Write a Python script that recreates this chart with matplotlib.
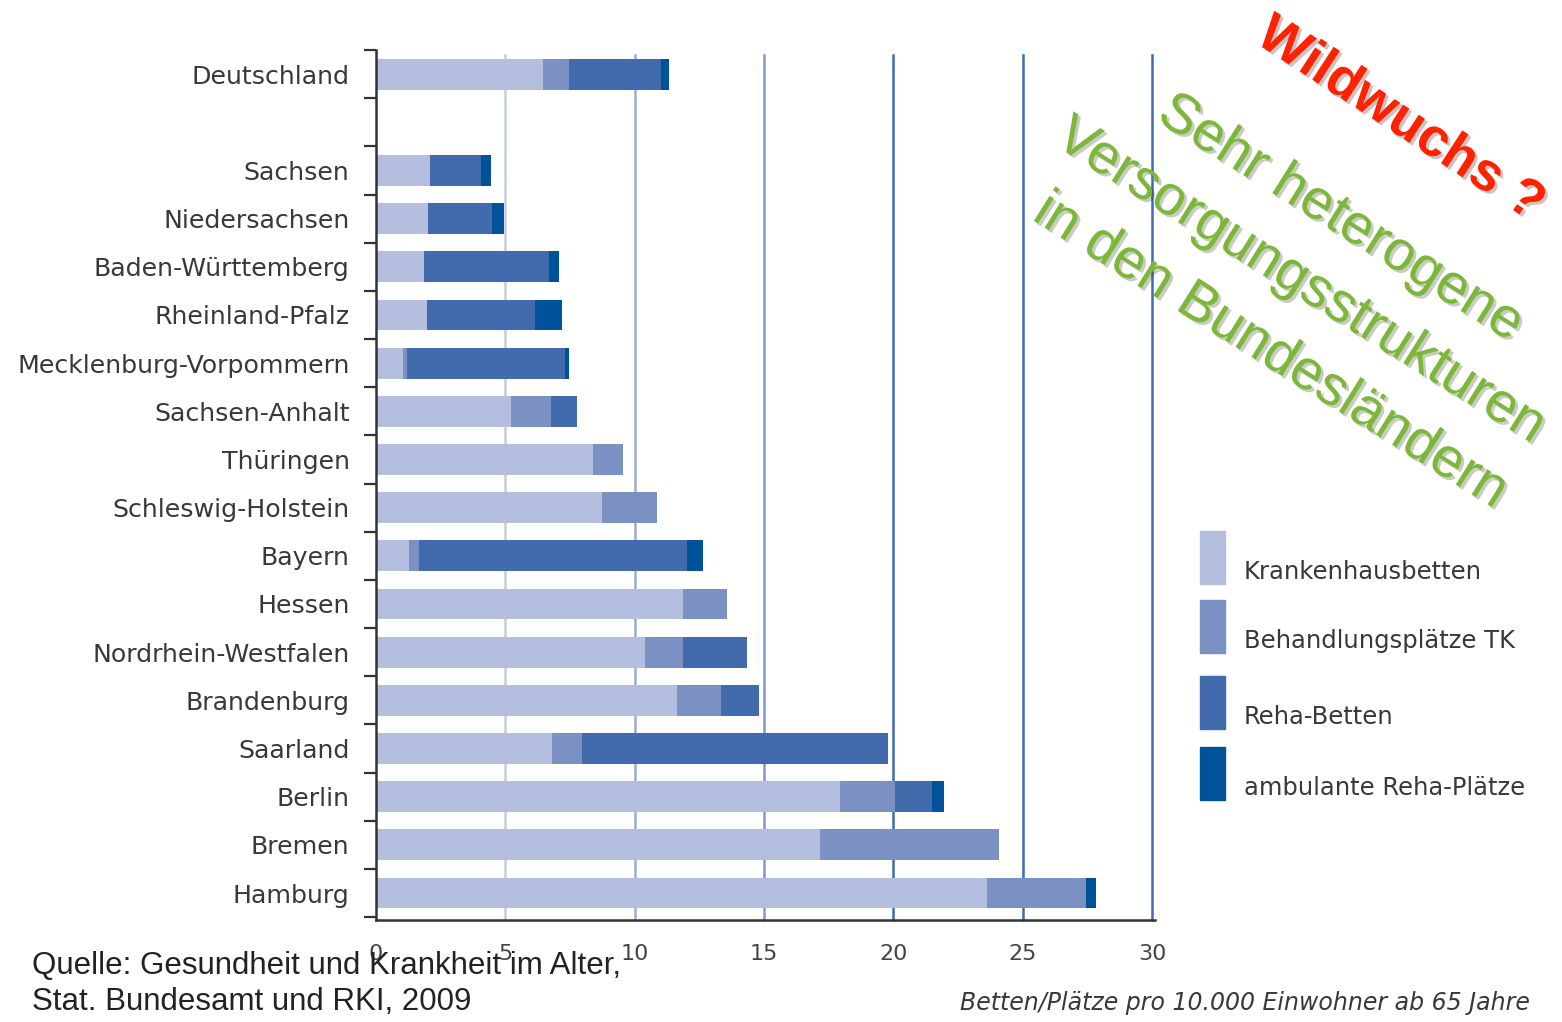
import matplotlib
matplotlib.use("Agg")
import matplotlib.pyplot as plt
import matplotlib.patheffects as pe
from matplotlib.patches import Rectangle
import numpy as np

# data, top to bottom
laender = ["Deutschland", "Sachsen", "Niedersachsen", "Baden-Württemberg",
           "Rheinland-Pfalz", "Mecklenburg-Vorpommern", "Sachsen-Anhalt",
           "Thüringen", "Schleswig-Holstein", "Bayern", "Hessen",
           "Nordrhein-Westfalen", "Brandenburg", "Saarland", "Berlin",
           "Bremen", "Hamburg"]
krankenhaus = [6.44, 2.08, 2.02, 1.87, 1.96, 1.03, 5.21, 8.39, 8.75, 1.26,
               11.87, 10.41, 11.63, 6.82, 17.93, 17.16, 23.62]
behandlung_tk = [1.02, 0, 0, 0, 0, 0.15, 1.55, 1.16, 2.13, 0.39,
                 1.71, 1.46, 1.72, 1.16, 2.12, 6.93, 3.83]
reha_betten = [3.57, 1.96, 2.48, 4.81, 4.18, 6.12, 1.00, 0, 0, 10.38,
               0, 2.48, 1.45, 11.80, 1.45, 0, 0]
amb_reha = [0.30, 0.39, 0.45, 0.39, 1.07, 0.15, 0, 0, 0, 0.61,
            0, 0, 0, 0, 0.47, 0, 0.39]

serien = ["Krankenhausbetten", "Behandlungsplätze TK", "Reha-Betten",
          "ambulante Reha-Plätze"]
farben = ["#b4bedf", "#7b91c4", "#426bae", "#00529b"]
xticks = [0, 5, 10, 15, 20, 25, 30]

# Deutschland sits two slots above the rest
ypos = [17] + list(range(15, -1, -1))

fig = plt.figure(figsize=(15.62, 10.22), dpi=100)
ax = fig.add_axes([376 / 1562, 1 - 920 / 1022, 776 / 1562, 870 / 1022])

grid_cols = {5: "#c3cce7", 10: "#9aadd9", 15: "#8098cf", 20: "#3d6cb4",
             25: "#3d6cb4", 30: "#3d6cb4"}
for v, c in grid_cols.items():
    ax.axvline(v, ymax=0.994, color=c, lw=1.8, zorder=0, clip_on=False)

left = np.zeros(len(laender))
for vals, col in zip([krankenhaus, behandlung_tk, reha_betten, amb_reha], farben):
    vals = np.array(vals)
    ax.barh(ypos, vals, left=left, height=0.64, color=col, edgecolor="none", zorder=2)
    left += vals

ax.set_xlim(0, 30)
ax.set_ylim(-0.56, 17.5)

ax.set_yticks(ypos)
ax.set_yticklabels(laender, fontsize=18.2, color="#383838")
ax.set_yticks(np.arange(-0.5, 17.6, 1), minor=True)
ax.tick_params(axis="y", which="major", length=0, pad=19)
ax.tick_params(axis="y", which="minor", length=9, width=1.6, color="#333333")

ax.set_xticks(xticks)
ax.set_xticklabels([str(x) for x in xticks], fontsize=16, color="#444444")
ax.tick_params(axis="x", length=0, pad=17)

for s in ["top", "right"]:
    ax.spines[s].set_visible(False)
for s in ["left", "bottom"]:
    ax.spines[s].set_color("#333333")
    ax.spines[s].set_linewidth(1.8)
ax.spines["bottom"].set_bounds(0, 30.1)

# legend drawn by hand (tall swatches)
leg_top = [531, 600, 676, 747]
for name, col, top in zip(serien, farben, leg_top):
    fig.patches.append(Rectangle((1200 / 1562, 1 - (top + 53) / 1022), 25 / 1562, 53 / 1022,
                                 transform=fig.transFigure, color=col))
    fig.text(1244 / 1562, 1 - (top + 41) / 1022, name, fontsize=17.5,
             color="#383838", va="center", ha="left")

fig.text(1530 / 1562, 1 - 1003 / 1022, "Betten/Plätze pro 10.000 Einwohner ab 65 Jahre",
         fontsize=17, style="italic", color="#383838", ha="right", va="center")

fig.text(32 / 1562, 1 - 966 / 1022, "Quelle: Gesundheit und Krankheit im Alter,",
         fontsize=22.5, family="Liberation Sans", color="#222222", va="center", zorder=5)
fig.text(32 / 1562, 1 - 1002 / 1022, "Stat. Bundesamt und RKI, 2009",
         fontsize=22.5, family="Liberation Sans", color="#222222", va="center", zorder=5)

shadow = [pe.withSimplePatchShadow(offset=(2, -2), alpha=0.25)]
fig.text(1400 / 1562, 1 - 120 / 1022, "Wildwuchs ?", fontsize=39, weight="bold",
         family="Liberation Sans", color="#ff2200", rotation=-33,
         rotation_mode="anchor", ha="center", va="center", path_effects=shadow)
green = "#7cb73a"
for txt, cx, cy in [("Sehr heterogene", 1340, 219),
                    ("Versorgungsstrukturen", 1300, 282),
                    ("in den Bundesländern", 1270, 352)]:
    fig.text(cx / 1562, 1 - cy / 1022, txt, fontsize=40.5, family="Liberation Sans",
             color=green, rotation=-32, rotation_mode="anchor",
             ha="center", va="center", path_effects=shadow)

fig.savefig("out.png", dpi=100, facecolor="white")
